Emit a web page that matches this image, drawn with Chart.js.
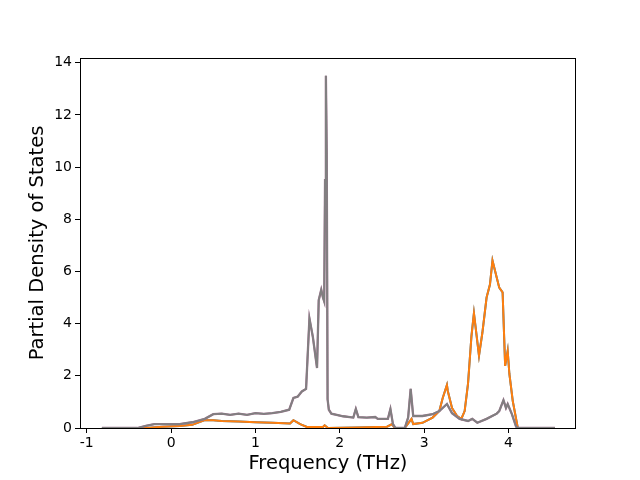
<!DOCTYPE html>
<html>
<head>
<meta charset="utf-8">
<script src="https://cdn.jsdelivr.net/npm/chart.js@4/dist/chart.umd.min.js"></script>
<style>
  html, body { margin: 0; padding: 0; background: #fff; }
  #wrap { width: 640px; height: 480px; }
</style>
</head>
<body>
<div id="wrap"><canvas id="dosChart" width="640" height="480"></canvas></div>
<script>
// frequency (THz) and partial DOS
const freqGray = [-0.82, -0.4, -0.3, -0.2, -0.05, 0.1, 0.25, 0.4, 0.5, 0.6, 0.7, 0.8, 0.9, 1.0, 1.1, 1.2, 1.3, 1.4, 1.45, 1.5, 1.55, 1.6, 1.64, 1.68, 1.73, 1.75, 1.78, 1.80, 1.815, 1.825, 1.835, 1.845, 1.855, 1.87, 1.9, 2.04, 2.16, 2.19, 2.22, 2.32, 2.42, 2.45, 2.57, 2.6, 2.63, 2.66, 2.77, 2.81, 2.84, 2.87, 2.98, 3.10, 3.18, 3.27, 3.33, 3.42, 3.52, 3.57, 3.63, 3.74, 3.86, 3.89, 3.94, 3.97, 3.99, 4.04, 4.09, 4.12, 4.55];
const dosGray = [0, 0, 0.08, 0.15, 0.15, 0.15, 0.22, 0.35, 0.53, 0.55, 0.5, 0.55, 0.5, 0.57, 0.54, 0.57, 0.62, 0.7, 1.15, 1.2, 1.4, 1.5, 4.2, 3.5, 2.3, 4.9, 5.3, 5.0, 4.85, 9.5, 13.5, 10.5, 1.1, 0.7, 0.55, 0.45, 0.4, 0.73, 0.42, 0.4, 0.42, 0.35, 0.35, 0.73, 0.15, 0, 0, 0.4, 1.5, 0.46, 0.46, 0.53, 0.65, 0.92, 0.57, 0.35, 0.27, 0.35, 0.2, 0.35, 0.55, 0.65, 1.07, 0.77, 0.92, 0.53, 0.05, 0, 0];

const freqOrange = [-0.82, -0.3, -0.1, 0.1, 0.25, 0.4, 0.5, 0.6, 0.8, 1.0, 1.2, 1.41, 1.45, 1.53, 1.61, 1.8, 1.82, 1.86, 2.2, 2.56, 2.62, 2.65, 2.77, 2.85, 2.87, 2.98, 3.10, 3.18, 3.22, 3.27, 3.28, 3.33, 3.39, 3.44, 3.48, 3.52, 3.56, 3.59, 3.65, 3.69, 3.74, 3.78, 3.81, 3.86, 3.89, 3.93, 3.96, 3.99, 4.01, 4.05, 4.11, 4.55];
const dosOrange = [0, 0, 0.05, 0.08, 0.12, 0.3, 0.3, 0.27, 0.25, 0.22, 0.2, 0.17, 0.3, 0.15, 0.04, 0.04, 0.1, 0, 0.02, 0.05, 0.15, 0, 0, 0.35, 0.15, 0.2, 0.4, 0.65, 1.15, 1.65, 1.42, 0.77, 0.46, 0.35, 0.65, 1.7, 3.5, 4.4, 2.77, 3.65, 5.0, 5.5, 6.42, 5.77, 5.38, 5.2, 2.38, 2.96, 2.08, 1.04, 0, 0];

const xTicks = [-1, 0, 1, 2, 3, 4];
const yTicks = [0, 2, 4, 6, 8, 10, 12, 14];

const pts = (xs, ys) => xs.map((x, i) => ({ x: x, y: ys[i] }));

const frameBox = {
	id: "frameBox",
	afterDraw(chart) {
		const a = chart.chartArea, c = chart.ctx;
		c.save();
		c.strokeStyle = "#000";
		c.lineWidth = 1;
		c.strokeRect(a.left + 0.5, a.top + 0.5, a.right - a.left - 1, a.bottom - a.top);
		c.restore();
	}
};

// chart.js draws the first dataset on top, so gray goes first
const line = (data, color, width) => ({
	data: data,
	borderColor: color,
	borderWidth: width,
	pointRadius: 0,
	tension: 0,
	fill: false
});

const ctx = document.getElementById("dosChart").getContext("2d");
new Chart(ctx, {
	type: "line",
	data: {
		datasets: [
			line(pts(freqGray, dosGray), "#808080", 1.8),
			line(pts(freqGray, dosGray), "#a0708f", 2.3),
			line(pts(freqOrange, dosOrange), "#ff7f0e", 2),
			line(pts(freqOrange, dosOrange), "#1f77b4", 2)
		]
	},
	options: {
		responsive: false,
		animation: false,
		layout: { padding: { top: 58, right: 64, left: 0, bottom: 0 } },
		plugins: { legend: { display: false }, tooltip: { enabled: false } },
		scales: {
			x: {
				type: "linear",
				min: -1.08,
				max: 4.8,
				afterBuildTicks: ax => { ax.ticks = xTicks.map(v => ({ value: v })); },
				afterFit: ax => { ax.height = 52; },
				grid: { drawOnChartArea: false, tickLength: 5, color: "#000", tickColor: "#000" },
				border: { display: false },
				ticks: { color: "#000", font: { family: "DejaVu Sans", size: 14 }, padding: 2, maxRotation: 0 },
				title: { display: true, text: "Frequency (THz)", color: "#000", font: { family: "DejaVu Sans", size: 19.5 }, padding: { top: 0 } }
			},
			y: {
				min: 0,
				max: 14.18,
				afterBuildTicks: ax => { ax.ticks = yTicks.map(v => ({ value: v })); },
				afterFit: ax => { ax.width = 80; },
				grid: { drawOnChartArea: false, tickLength: 5, color: "#000", tickColor: "#000" },
				border: { display: false },
				ticks: { color: "#000", font: { family: "DejaVu Sans", size: 14 }, padding: 3 },
				title: { display: true, text: "Partial Density of States", color: "#000", font: { family: "DejaVu Sans", size: 19.5 }, padding: { top: 26, bottom: 0 } }
			}
		}
	},
	plugins: [frameBox]
});
</script>
</body>
</html>
